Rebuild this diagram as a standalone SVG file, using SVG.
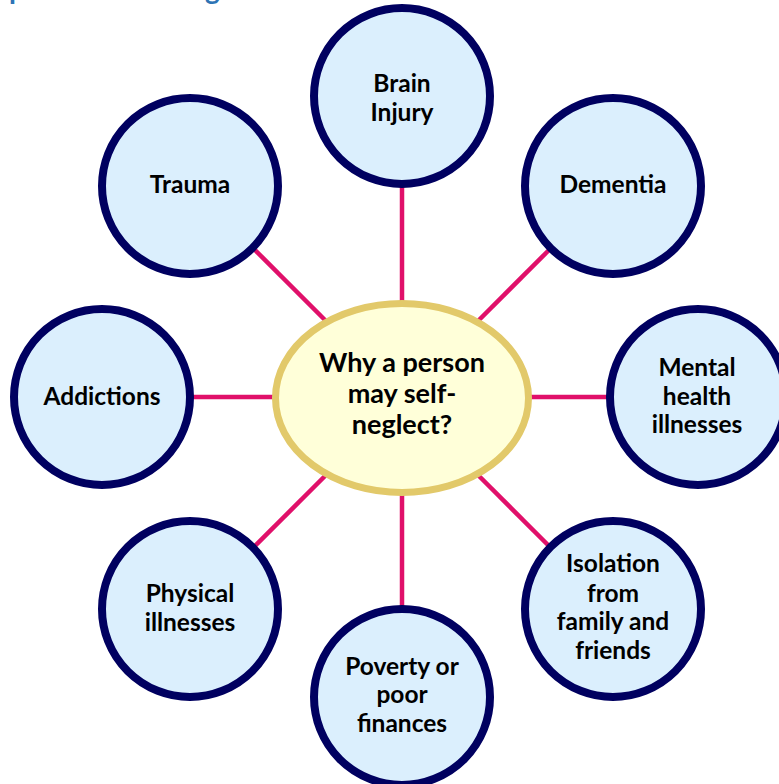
<svg xmlns="http://www.w3.org/2000/svg" width="779" height="784" viewBox="0 0 779 784">
<style>
.node{fill:#dbeffd;stroke:#000060;stroke-width:8}
.hub{fill:#ffffd9;stroke:#e2c96a;stroke-width:7}
.lbl{font-family:Lato,"Open Sans","Liberation Sans",sans-serif;font-weight:bold;font-size:24.5px;fill:#000;text-anchor:middle}
.big{font-size:27px}
.conn line{stroke:#e0106a;stroke-width:4.5}
.title{font-family:Lato,"Liberation Sans",sans-serif;font-weight:bold;font-size:28px;fill:#2e74b5}
</style>
<rect width="779" height="784" fill="#fff"/>
<text class="title" x="9" y="-1">p</text>
<text class="title" x="205" y="-1">g</text>
<g id="connectors" class="conn">
<line x1="402" y1="186" x2="402" y2="302"/>
<line x1="402" y1="494" x2="402" y2="607"/>
<line x1="192" y1="397" x2="274" y2="397"/>
<line x1="530" y1="397" x2="608" y2="397"/>
<line x1="254" y1="249" x2="326" y2="321"/>
<line x1="550" y1="249" x2="478" y2="321"/>
<line x1="326" y1="475" x2="254" y2="547"/>
<line x1="478" y1="475" x2="550" y2="547"/>
</g>
<g id="hub">
<ellipse class="hub" cx="402" cy="398" rx="126.5" ry="94.5"/>
<text class="lbl big"><tspan x="402" y="372">Why a person</tspan><tspan x="402" y="403">may self-</tspan><tspan x="402" y="434">neglect?</tspan></text>
</g>
<g id="brain-injury">
<circle class="node" cx="402" cy="96" r="88"/>
<text class="lbl"><tspan x="402" y="92">Brain</tspan><tspan x="402" y="121">Injury</tspan></text>
</g>
<g id="trauma">
<circle class="node" cx="190" cy="186" r="88"/>
<text class="lbl" x="190" y="193">Trauma</text>
</g>
<g id="dementia">
<circle class="node" cx="613" cy="186" r="88"/>
<text class="lbl" x="613" y="193">Dementia</text>
</g>
<g id="addictions">
<circle class="node" cx="102" cy="397" r="88"/>
<text class="lbl" x="102" y="405">Addictions</text>
</g>
<g id="mental-health">
<circle class="node" cx="698" cy="397" r="88"/>
<text class="lbl"><tspan x="697" y="376">Mental</tspan><tspan x="697" y="405">health</tspan><tspan x="697" y="433">illnesses</tspan></text>
</g>
<g id="physical-illnesses">
<circle class="node" cx="190" cy="609" r="88"/>
<text class="lbl"><tspan x="190" y="602">Physical</tspan><tspan x="190" y="631">illnesses</tspan></text>
</g>
<g id="isolation">
<circle class="node" cx="613" cy="609" r="88"/>
<text class="lbl"><tspan x="613" y="572">Isolation</tspan><tspan x="613" y="602">from</tspan><tspan x="613" y="630">family and</tspan><tspan x="613" y="659">friends</tspan></text>
</g>
<g id="poverty">
<circle class="node" cx="402" cy="697" r="88"/>
<text class="lbl"><tspan x="402" y="675">Poverty or</tspan><tspan x="402" y="703">poor</tspan><tspan x="402" y="732">finances</tspan></text>
</g>
</svg>
